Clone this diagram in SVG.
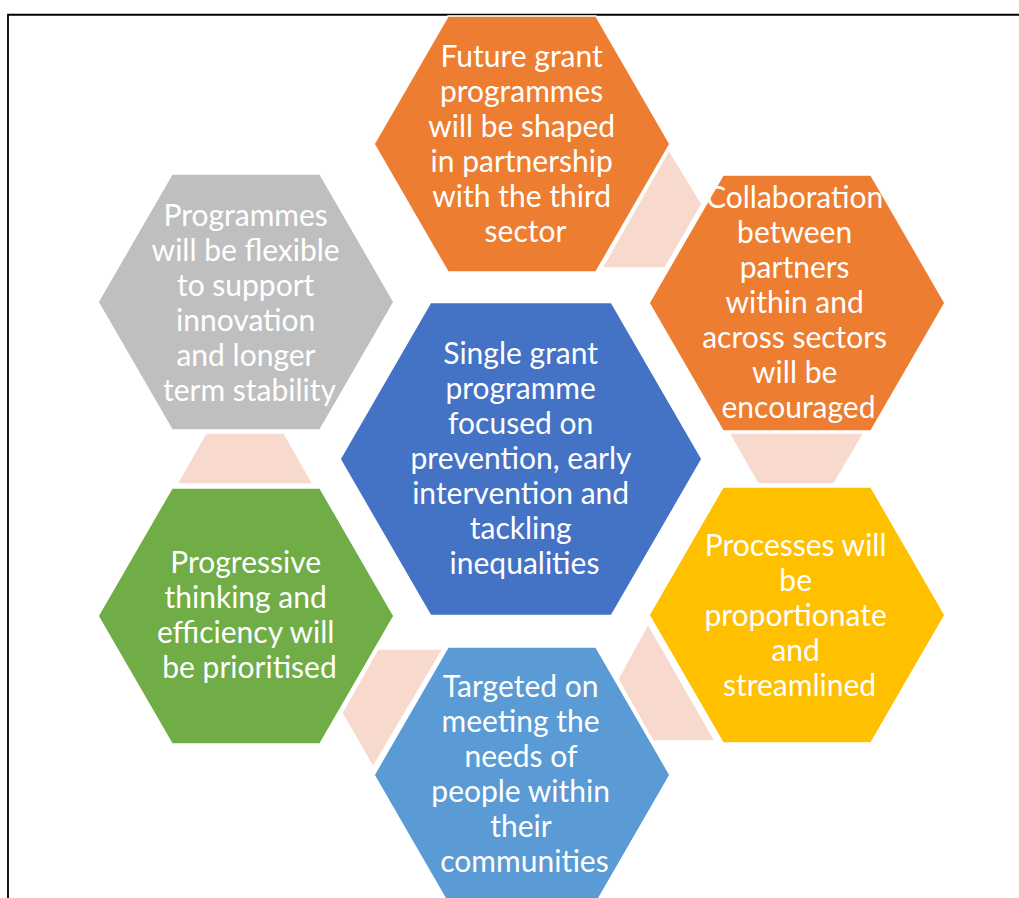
<svg xmlns="http://www.w3.org/2000/svg" width="1019" height="898" viewBox="0 0 1019 898">
  <style>
    .hex { stroke: #ffffff; stroke-width: 1.5; }
    .link { fill: #F8D9CE; stroke: #ffffff; stroke-width: 1.5; }
    .label { font-family: Lato, "Liberation Sans", sans-serif; font-size: 30px; fill: #ffffff; text-anchor: middle; }
  </style>
  <rect x="0" y="0" width="1019" height="898" fill="#ffffff"/>
  <!-- page frame -->
  <path d="M8,898 V14.75 H1019" fill="none" stroke="#000000" stroke-width="1.8"/>

  <!-- connectors between outer hexagons -->
  <g id="connectors">
    <polygon class="link" points="669,150 702,204 665,268 602,268"/>
    <polygon class="link" points="729,433 864,433 834,484 758,484"/>
    <polygon class="link" points="648,624 618,679 653,741 715,741"/>
    <polygon class="link" points="378,649 443,649 373,767 342,713"/>
    <polygon class="link" points="206,433 284,433 313,484 177,484"/>
  </g>

  <g id="hex-top">
    <polygon class="hex" fill="#ED7D31" points="374,144 448,16 596,16 670,144 596,272 448,272"/>
    <text class="label">
      <tspan x="525.5" y="67">Future grant</tspan>
      <tspan x="525.5" y="102">programmes</tspan>
      <tspan x="525.5" y="137">will be shaped</tspan>
      <tspan x="525.5" y="172">in partnership</tspan>
      <tspan x="525.5" y="207">with the third</tspan>
      <tspan x="525.5" y="242">sector</tspan>
    </text>
  </g>

  <g id="hex-upper-right">
    <polygon class="hex" fill="#ED7D31" points="649,303 723,175 871,175 945,303 871,431 723,431"/>
    <text class="label">
      <tspan x="798.5" y="208">Collaboration</tspan>
      <tspan x="798.5" y="243">between</tspan>
      <tspan x="798.5" y="278">partners</tspan>
      <tspan x="798.5" y="313">within and</tspan>
      <tspan x="798.5" y="348">across sectors</tspan>
      <tspan x="798.5" y="383">will be</tspan>
      <tspan x="798.5" y="418">encouraged</tspan>
    </text>
  </g>

  <g id="hex-lower-right">
    <polygon class="hex" fill="#FFC000" points="649,615 723,487 871,487 945,615 871,743 723,743"/>
    <text class="label">
      <tspan x="799.5" y="556">Processes will</tspan>
      <tspan x="799.5" y="591">be</tspan>
      <tspan x="799.5" y="626">proportionate</tspan>
      <tspan x="799.5" y="661">and</tspan>
      <tspan x="799.5" y="696">streamlined</tspan>
    </text>
  </g>

  <g id="hex-bottom">
    <polygon class="hex" fill="#5B9BD5" points="374,775 448,647 596,647 670,775 596,903 448,903"/>
    <text class="label">
      <tspan x="524.5" y="697">Targeted on</tspan>
      <tspan x="524.5" y="732">meeting the</tspan>
      <tspan x="524.5" y="767">needs of</tspan>
      <tspan x="524.5" y="802">people within</tspan>
      <tspan x="524.5" y="837">their</tspan>
      <tspan x="524.5" y="872">communities</tspan>
    </text>
  </g>

  <g id="hex-lower-left">
    <polygon class="hex" fill="#70AD47" points="98,616 172,488 320,488 394,616 320,744 172,744"/>
    <text class="label">
      <tspan x="249.5" y="573">Progressive</tspan>
      <tspan x="249.5" y="608">thinking and</tspan>
      <tspan x="249.5" y="643">efficiency will</tspan>
      <tspan x="249.5" y="678">be prioritised</tspan>
    </text>
  </g>

  <g id="hex-upper-left">
    <polygon class="hex" fill="#BFBFBF" points="98,302 172,174 320,174 394,302 320,430 172,430"/>
    <text class="label">
      <tspan x="249.5" y="226">Programmes</tspan>
      <tspan x="249.5" y="261">will be flexible</tspan>
      <tspan x="249.5" y="296">to support</tspan>
      <tspan x="249.5" y="331">innovation</tspan>
      <tspan x="249.5" y="366">and longer</tspan>
      <tspan x="249.5" y="401">term stability</tspan>
    </text>
  </g>

  <g id="hex-centre">
    <polygon class="hex" fill="#4472C4" points="340,459 430.5,302.5 611.5,302.5 702,459 611.5,615.5 430.5,615.5"/>
    <text class="label">
      <tspan x="524.5" y="364">Single grant</tspan>
      <tspan x="524.5" y="399">programme</tspan>
      <tspan x="524.5" y="434">focused on</tspan>
      <tspan x="524.5" y="469">prevention, early</tspan>
      <tspan x="524.5" y="504">intervention and</tspan>
      <tspan x="524.5" y="539">tackling</tspan>
      <tspan x="524.5" y="574">inequalities</tspan>
    </text>
  </g>
</svg>
